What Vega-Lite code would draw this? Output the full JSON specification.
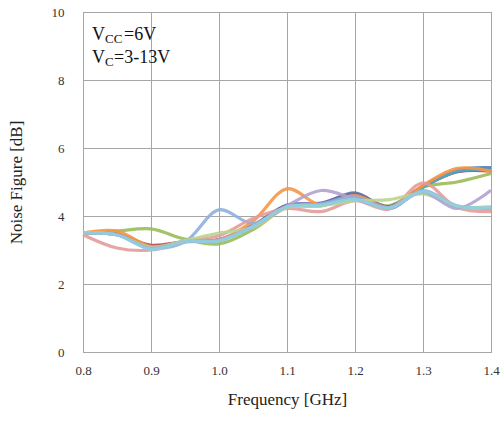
{
  "$schema": "https://vega.github.io/schema/vega-lite/v6.json",
  "autosize": "none",
  "width": 408,
  "height": 340,
  "padding": {"left": 83, "top": 12, "right": 9, "bottom": 73},
  "background": "white",
  "config": {
    "view": {"stroke": "#a6a6a6", "strokeWidth": 1},
    "font": "Liberation Serif"
  },
  "datasets": {
    "nf": [
      {"s":"s03","f":0.8,"nf":3.5},{"s":"s03","f":0.85,"nf":3.47},{"s":"s03","f":0.9,"nf":3.12},{"s":"s03","f":0.95,"nf":3.24},{"s":"s03","f":1.0,"nf":3.3},{"s":"s03","f":1.05,"nf":3.72},{"s":"s03","f":1.1,"nf":4.32},{"s":"s03","f":1.15,"nf":4.36},{"s":"s03","f":1.2,"nf":4.68},{"s":"s03","f":1.25,"nf":4.22},{"s":"s03","f":1.3,"nf":4.88},{"s":"s03","f":1.35,"nf":5.35},{"s":"s03","f":1.4,"nf":5.42},
      {"s":"s04","f":0.8,"nf":3.5},{"s":"s04","f":0.85,"nf":3.47},{"s":"s04","f":0.9,"nf":3.14},{"s":"s04","f":0.95,"nf":3.25},{"s":"s04","f":1.0,"nf":3.3},{"s":"s04","f":1.05,"nf":3.72},{"s":"s04","f":1.1,"nf":4.3},{"s":"s04","f":1.15,"nf":4.33},{"s":"s04","f":1.2,"nf":4.62},{"s":"s04","f":1.25,"nf":4.25},{"s":"s04","f":1.3,"nf":4.85},{"s":"s04","f":1.35,"nf":5.3},{"s":"s04","f":1.4,"nf":5.32},
      {"s":"s05","f":0.8,"nf":3.5},{"s":"s05","f":0.85,"nf":3.56},{"s":"s05","f":0.9,"nf":3.62},{"s":"s05","f":0.95,"nf":3.32},{"s":"s05","f":1.0,"nf":3.18},{"s":"s05","f":1.05,"nf":3.6},{"s":"s05","f":1.1,"nf":4.25},{"s":"s05","f":1.15,"nf":4.3},{"s":"s05","f":1.2,"nf":4.55},{"s":"s05","f":1.25,"nf":4.3},{"s":"s05","f":1.3,"nf":4.85},{"s":"s05","f":1.35,"nf":5.0},{"s":"s05","f":1.4,"nf":5.25},
      {"s":"s06","f":0.8,"nf":3.5},{"s":"s06","f":0.85,"nf":3.46},{"s":"s06","f":0.9,"nf":3.1},{"s":"s06","f":0.95,"nf":3.25},{"s":"s06","f":1.0,"nf":3.3},{"s":"s06","f":1.05,"nf":3.7},{"s":"s06","f":1.1,"nf":4.3},{"s":"s06","f":1.15,"nf":4.38},{"s":"s06","f":1.2,"nf":4.65},{"s":"s06","f":1.25,"nf":4.28},{"s":"s06","f":1.3,"nf":4.88},{"s":"s06","f":1.35,"nf":5.3},{"s":"s06","f":1.4,"nf":5.36},
      {"s":"s07","f":0.8,"nf":3.5},{"s":"s07","f":0.85,"nf":3.45},{"s":"s07","f":0.9,"nf":3.06},{"s":"s07","f":0.95,"nf":3.25},{"s":"s07","f":1.0,"nf":3.28},{"s":"s07","f":1.05,"nf":3.7},{"s":"s07","f":1.1,"nf":4.28},{"s":"s07","f":1.15,"nf":4.35},{"s":"s07","f":1.2,"nf":4.6},{"s":"s07","f":1.25,"nf":4.25},{"s":"s07","f":1.3,"nf":4.85},{"s":"s07","f":1.35,"nf":5.32},{"s":"s07","f":1.4,"nf":5.35},
      {"s":"s08","f":0.8,"nf":3.5},{"s":"s08","f":0.85,"nf":3.56},{"s":"s08","f":0.9,"nf":3.1},{"s":"s08","f":0.95,"nf":3.25},{"s":"s08","f":1.0,"nf":3.3},{"s":"s08","f":1.05,"nf":3.85},{"s":"s08","f":1.1,"nf":4.8},{"s":"s08","f":1.15,"nf":4.32},{"s":"s08","f":1.2,"nf":4.6},{"s":"s08","f":1.25,"nf":4.25},{"s":"s08","f":1.3,"nf":4.9},{"s":"s08","f":1.35,"nf":5.4},{"s":"s08","f":1.4,"nf":5.32},
      {"s":"s09","f":0.8,"nf":3.5},{"s":"s09","f":0.85,"nf":3.45},{"s":"s09","f":0.9,"nf":3.06},{"s":"s09","f":0.95,"nf":3.24},{"s":"s09","f":1.0,"nf":4.18},{"s":"s09","f":1.05,"nf":3.78},{"s":"s09","f":1.1,"nf":4.28},{"s":"s09","f":1.15,"nf":4.35},{"s":"s09","f":1.2,"nf":4.55},{"s":"s09","f":1.25,"nf":4.22},{"s":"s09","f":1.3,"nf":4.75},{"s":"s09","f":1.35,"nf":4.3},{"s":"s09","f":1.4,"nf":4.22},
      {"s":"s10","f":0.8,"nf":3.45},{"s":"s10","f":0.85,"nf":3.06},{"s":"s10","f":0.9,"nf":3.0},{"s":"s10","f":0.95,"nf":3.26},{"s":"s10","f":1.0,"nf":3.42},{"s":"s10","f":1.05,"nf":3.93},{"s":"s10","f":1.1,"nf":4.22},{"s":"s10","f":1.15,"nf":4.13},{"s":"s10","f":1.2,"nf":4.45},{"s":"s10","f":1.25,"nf":4.2},{"s":"s10","f":1.3,"nf":4.97},{"s":"s10","f":1.35,"nf":4.25},{"s":"s10","f":1.4,"nf":4.13},
      {"s":"s11","f":0.8,"nf":3.5},{"s":"s11","f":0.85,"nf":3.45},{"s":"s11","f":0.9,"nf":3.08},{"s":"s11","f":0.95,"nf":3.28},{"s":"s11","f":1.0,"nf":3.5},{"s":"s11","f":1.05,"nf":3.67},{"s":"s11","f":1.1,"nf":4.25},{"s":"s11","f":1.15,"nf":4.3},{"s":"s11","f":1.2,"nf":4.45},{"s":"s11","f":1.25,"nf":4.48},{"s":"s11","f":1.3,"nf":4.65},{"s":"s11","f":1.35,"nf":4.28},{"s":"s11","f":1.4,"nf":4.28},
      {"s":"s12","f":0.8,"nf":3.5},{"s":"s12","f":0.85,"nf":3.45},{"s":"s12","f":0.9,"nf":3.05},{"s":"s12","f":0.95,"nf":3.25},{"s":"s12","f":1.0,"nf":3.3},{"s":"s12","f":1.05,"nf":3.7},{"s":"s12","f":1.1,"nf":4.3},{"s":"s12","f":1.15,"nf":4.75},{"s":"s12","f":1.2,"nf":4.5},{"s":"s12","f":1.25,"nf":4.25},{"s":"s12","f":1.3,"nf":4.7},{"s":"s12","f":1.35,"nf":4.22},{"s":"s12","f":1.4,"nf":4.76},
      {"s":"s13","f":0.8,"nf":3.51},{"s":"s13","f":0.85,"nf":3.44},{"s":"s13","f":0.9,"nf":3.02},{"s":"s13","f":0.95,"nf":3.25},{"s":"s13","f":1.0,"nf":3.27},{"s":"s13","f":1.05,"nf":3.69},{"s":"s13","f":1.1,"nf":4.27},{"s":"s13","f":1.15,"nf":4.32},{"s":"s13","f":1.2,"nf":4.49},{"s":"s13","f":1.25,"nf":4.23},{"s":"s13","f":1.3,"nf":4.72},{"s":"s13","f":1.35,"nf":4.29},{"s":"s13","f":1.4,"nf":4.25}
    ]
  },
  "layer": [
    {
      "data": {"name": "nf"},
      "mark": {"type": "line", "interpolate": "catmull-rom", "strokeWidth": 3.2, "opacity": 0.9},
      "encoding": {
        "x": {
          "field": "f", "type": "quantitative",
          "scale": {"domain": [0.8, 1.4], "nice": false, "zero": false},
          "axis": {
            "values": [0.8, 0.9, 1.0, 1.1, 1.2, 1.3, 1.4],
            "format": ".1f",
            "labelFlush": false,
            "title": "Frequency [GHz]",
            "titleFont": "Liberation Serif", "titleFontSize": 17, "titleFontWeight": "normal", "titleColor": "#222",
            "titlePadding": 14,
            "labelFont": "Liberation Serif", "labelFontSize": 13, "labelColor": "#333", "labelPadding": 12,
            "ticks": false,
            "domainColor": "#a6a6a6",
            "gridColor": "#a6a6a6", "gridOpacity": 1
          }
        },
        "y": {
          "field": "nf", "type": "quantitative",
          "scale": {"domain": [0, 10], "nice": false},
          "axis": {
            "values": [0, 2, 4, 6, 8, 10],
            "labelFlush": false,
            "title": "Noise Figure [dB]",
            "titleFont": "Liberation Serif", "titleFontSize": 17, "titleFontWeight": "normal", "titleColor": "#222",
            "titlePadding": 26,
            "labelFont": "Liberation Serif", "labelFontSize": 13, "labelColor": "#333", "labelPadding": 19,
            "ticks": false,
            "domainColor": "#a6a6a6",
            "gridColor": "#a6a6a6", "gridOpacity": 1
          }
        },
        "color": {
          "field": "s", "type": "nominal", "legend": null,
          "scale": {
            "domain": ["s03","s04","s05","s06","s07","s08","s09","s10","s11","s12","s13"],
            "range": ["#4F81BD","#C0504D","#9BBB59","#8064A2","#4BACC6","#F79646","#8DB0DE","#E29C9A","#B9D48F","#B3A2CF","#8FCFE0"]
          }
        },
        "detail": {"field": "s"}
      }
    },
    {
      "data": {"values": [{}]},
      "mark": {"type": "text", "align": "left", "baseline": "alphabetic", "font": "Liberation Serif", "fontSize": 18, "color": "#111", "dx": 9, "dy": 28},
      "encoding": {"x": {"datum": 0.8}, "y": {"datum": 10}, "text": {"value": "V"}}
    },
    {
      "data": {"values": [{}]},
      "mark": {"type": "text", "align": "left", "baseline": "alphabetic", "font": "Liberation Serif", "fontSize": 13, "color": "#111", "dx": 22, "dy": 31},
      "encoding": {"x": {"datum": 0.8}, "y": {"datum": 10}, "text": {"value": "CC"}}
    },
    {
      "data": {"values": [{}]},
      "mark": {"type": "text", "align": "left", "baseline": "alphabetic", "font": "Liberation Serif", "fontSize": 18, "color": "#111", "dx": 41, "dy": 28},
      "encoding": {"x": {"datum": 0.8}, "y": {"datum": 10}, "text": {"value": "=6V"}}
    },
    {
      "data": {"values": [{}]},
      "mark": {"type": "text", "align": "left", "baseline": "alphabetic", "font": "Liberation Serif", "fontSize": 18, "color": "#111", "dx": 9, "dy": 51},
      "encoding": {"x": {"datum": 0.8}, "y": {"datum": 10}, "text": {"value": "V"}}
    },
    {
      "data": {"values": [{}]},
      "mark": {"type": "text", "align": "left", "baseline": "alphabetic", "font": "Liberation Serif", "fontSize": 13, "color": "#111", "dx": 22, "dy": 54},
      "encoding": {"x": {"datum": 0.8}, "y": {"datum": 10}, "text": {"value": "C"}}
    },
    {
      "data": {"values": [{}]},
      "mark": {"type": "text", "align": "left", "baseline": "alphabetic", "font": "Liberation Serif", "fontSize": 18, "color": "#111", "dx": 31, "dy": 51},
      "encoding": {"x": {"datum": 0.8}, "y": {"datum": 10}, "text": {"value": "=3-13V"}}
    }
  ]
}
